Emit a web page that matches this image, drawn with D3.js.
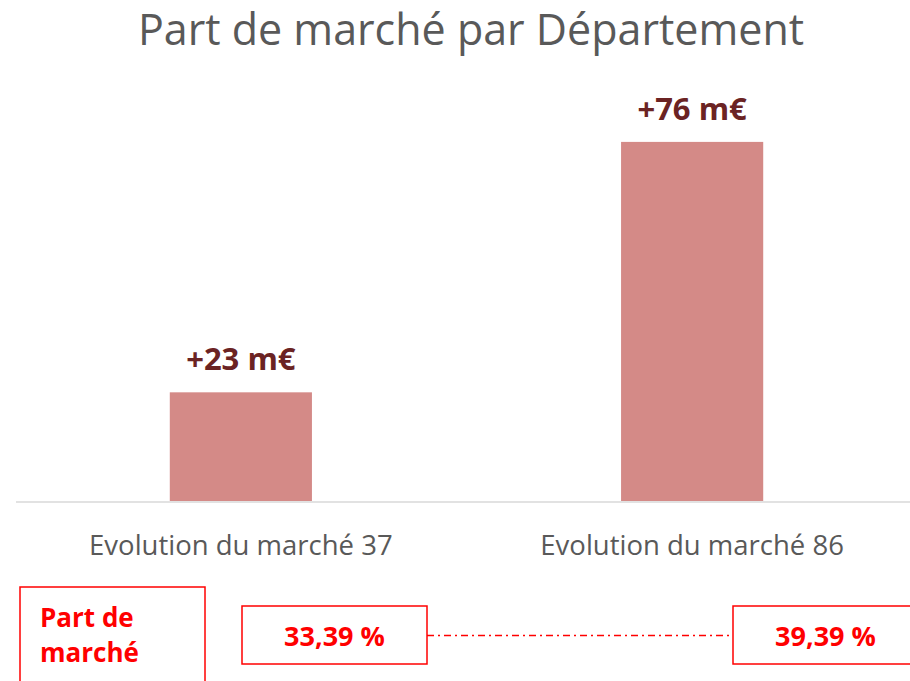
<!DOCTYPE html>
<html>
<head>
<meta charset="utf-8">
<script src="https://cdn.jsdelivr.net/npm/d3@7"></script>
<style>
  body { margin: 0; background: #fff; }
  svg { display: block; font-family: "Open Sans", sans-serif; }
</style>
</head>
<body>
<div class="chart-container"></div>
<script>
// data
const categories = ["Evolution du marché 37", "Evolution du marché 86"];
const values = [23, 76];
const valueLabels = ["+23 m€", "+76 m€"];
const shareTitle = ["Part de", "marché"];
const shareLabels = ["33,39 %", "39,39 %"];

document.addEventListener('DOMContentLoaded', function() {
    const width = 910;
    const height = 681;
    const baseline = 501;

    const svg = d3.select(".chart-container")
        .append("svg")
        .attr("width", width)
        .attr("height", height);

    // title
    svg.append("text")
        .attr("x", 471)
        .attr("y", 45)
        .attr("text-anchor", "middle")
        .attr("fill", "#595959")
        .attr("font-size", 43)
        .text("Part de marché par Département");

    const x = d3.scaleBand()
        .domain(categories)
        .range([15, 918])
        .paddingInner(0.685)
        .paddingOuter(0.343);

    const y = d3.scaleLinear()
        .domain([0, 80])
        .range([baseline, 123]);

    // bars
    svg.append("g")
        .selectAll("rect")
        .data(values)
        .join("rect")
        .attr("x", (d, i) => x(categories[i]))
        .attr("y", d => y(d))
        .attr("width", x.bandwidth())
        .attr("height", d => y(0) - y(d))
        .attr("fill", "#d48a87");

    // axis line
    svg.append("line")
        .attr("x1", 16)
        .attr("x2", width)
        .attr("y1", baseline + 1)
        .attr("y2", baseline + 1)
        .attr("stroke", "#d9d9d9")
        .attr("stroke-width", 1.5);

    // value labels
    svg.append("g")
        .selectAll("text")
        .data(values)
        .join("text")
        .attr("x", (d, i) => x(categories[i]) + x.bandwidth() / 2)
        .attr("y", d => y(d) - 22)
        .attr("text-anchor", "middle")
        .attr("font-weight", "bold")
        .attr("font-size", 31)
        .attr("fill", "#6b2323")
        .text((d, i) => valueLabels[i]);

    // category labels
    svg.append("g")
        .selectAll("text")
        .data(categories)
        .join("text")
        .attr("x", d => x(d) + x.bandwidth() / 2)
        .attr("y", 555)
        .attr("text-anchor", "middle")
        .attr("font-size", 27.5)
        .attr("fill", "#595959")
        .text(d => d);

    // market share boxes
    const red = "#ff0000";
    const box = svg.append("g");

    box.append("rect")
        .attr("x", 20).attr("y", 587)
        .attr("width", 185).attr("height", 110)
        .attr("fill", "none").attr("stroke", red).attr("stroke-width", 1.5);

    box.selectAll("text.title")
        .data(shareTitle)
        .join("text")
        .attr("class", "title")
        .attr("x", 40)
        .attr("y", (d, i) => 627 + i * 35)
        .attr("font-weight", "bold")
        .attr("font-size", 26)
        .attr("fill", red)
        .text(d => d);

    const boxX = [242, 733];
    const boxW = 185;

    // dash-dot connector between the two share boxes
    box.append("line")
        .attr("x1", boxX[0] + boxW)
        .attr("x2", boxX[1])
        .attr("y1", 635.5).attr("y2", 635.5)
        .attr("stroke", red)
        .attr("stroke-width", 1.6)
        .attr("stroke-dasharray", "7,4,2,4");

    box.selectAll("rect.share")
        .data(shareLabels)
        .join("rect")
        .attr("class", "share")
        .attr("x", (d, i) => boxX[i])
        .attr("y", 606)
        .attr("width", boxW)
        .attr("height", 58)
        .attr("fill", "#fff")
        .attr("stroke", red)
        .attr("stroke-width", 1.5);

    box.selectAll("text.share")
        .data(shareLabels)
        .join("text")
        .attr("class", "share")
        .attr("x", (d, i) => boxX[i] + boxW / 2)
        .attr("y", 646)
        .attr("text-anchor", "middle")
        .attr("font-weight", "bold")
        .attr("font-size", 27)
        .attr("fill", red)
        .text(d => d);
});
</script>
</body>
</html>
